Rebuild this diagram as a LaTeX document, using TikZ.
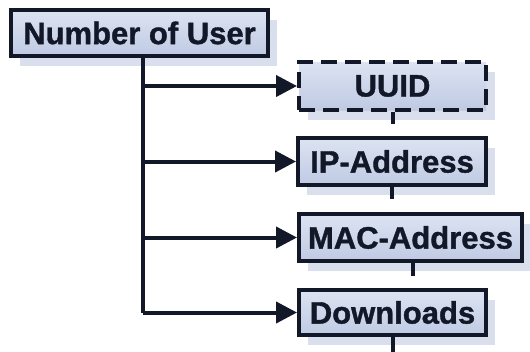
\documentclass[tikz,border=0pt]{standalone}
\usepackage{fontspec}
\setmainfont{Liberation Sans}
\newfontfamily\heavy{Liberation Sans Bold}[FakeBold=1.2]
\usetikzlibrary{arrows.meta,calc,shadows}
\definecolor{ink}{HTML}{121828}
\definecolor{boxtop}{HTML}{DCE3F2}
\definecolor{boxbot}{HTML}{BFCAE3}
\definecolor{shade}{HTML}{D9DFEC}
\pgfdeclarelayer{back}
\pgfsetlayers{back,main}
\begin{document}
\begin{tikzpicture}[x=1pt,y=-1pt,
  item/.style={draw=ink, line width=4pt, top color=boxtop, bottom color=boxbot,
    minimum height=47pt, inner sep=0pt, text=ink,
    font=\heavy\fontsize{31}{31}\selectfont,
    general shadow={shadow xshift=9pt, shadow yshift=-10pt, fill=shade, draw=none}},
  link/.style={draw=ink, line width=4pt},
  arrowlink/.style={link, -{Triangle[length=21pt,width=21pt]}},
  ghost/.style={draw=shade, line width=4pt},
]
\fill[white] (0,0) rectangle (530,351);
\useasboundingbox (0,0) rectangle (530,351);

% boxes
\node[item, minimum width=257pt, minimum height=46pt] (nu) at (139.5,33) {Number of User};
\node[item, minimum width=187pt, minimum height=48pt, dash pattern=on 16pt off 8pt] (uuid) at (392.5,86) {UUID};
\node[item, minimum width=188pt] (ip) at (392,161.5) {IP-Address};
\node[item, minimum width=223pt] (mac) at (410.5,237.5) {MAC-Address};
\node[item, minimum width=187pt, minimum height=45pt] (dl) at (392.5,312.5) {Downloads};

% trunk position
\coordinate (tx) at (143,0);

% pale shadows of the connectors
\begin{pgfonlayer}{back}
  \draw[ghost] ($(nu.south -| tx)+(10,10)$) -- ($(tx |- dl.west)+(10,12)$) -- ($(dl.west)+(0,12)$);
  \foreach \b in {uuid,ip,mac} {
    \draw[ghost] ($(tx |- \b.west)+(10,10)$) -- ($(\b.west)+(0,10)$);
  }
\end{pgfonlayer}

% connectors
\draw[link] (nu.south -| tx) -- (tx |- dl.west);
\foreach \b in {uuid,ip,mac,dl} {
  \draw[arrowlink] (tx |- \b.west) -- (\b.west);
}

% short stubs under the boxes
\draw[link] (uuid.south) -- ++(0,12);
\draw[link] (ip.south) -- ++(0,12);
\draw[link] ([xshift=2pt]mac.south) -- ++(0,13);
\draw[link] (dl.south) -- ++(0,18);
\end{tikzpicture}
\end{document}
